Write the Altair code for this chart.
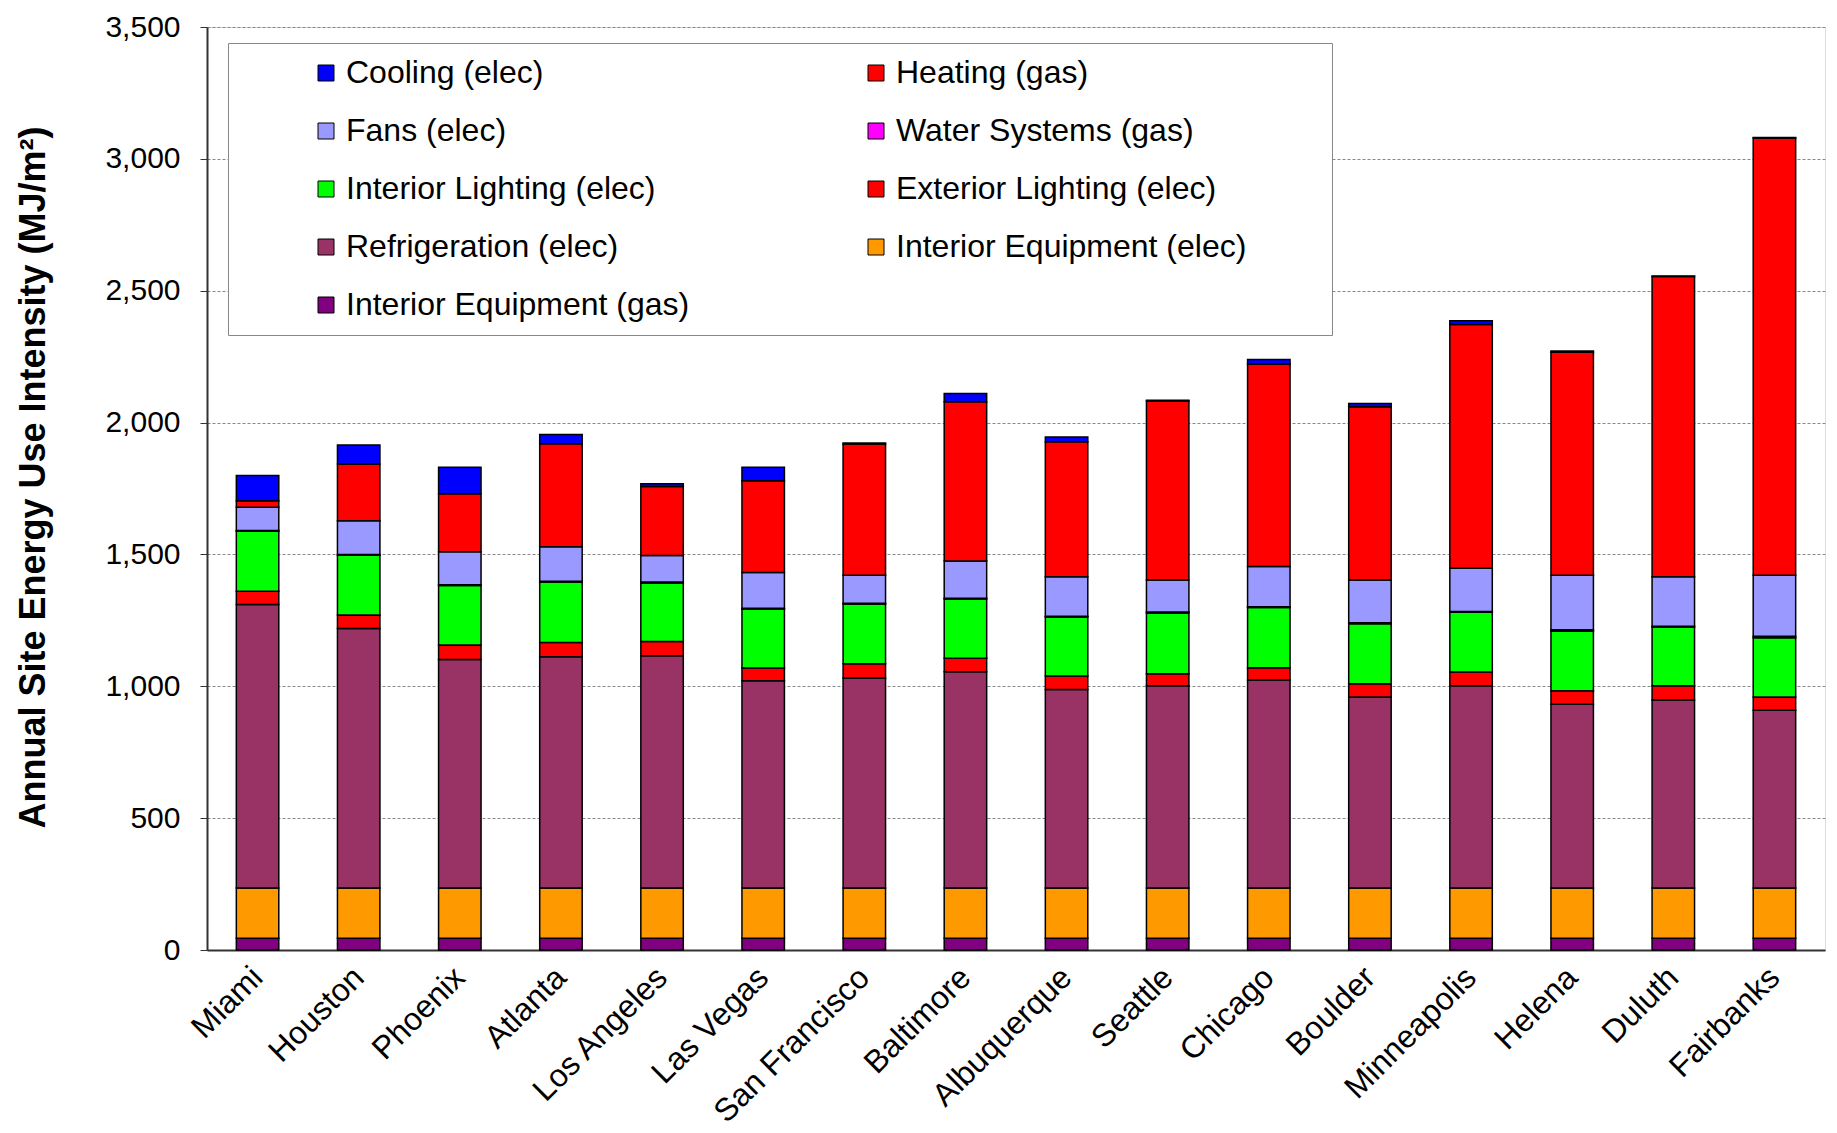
import altair as alt
import pandas as pd

cities = ["Miami", "Houston", "Phoenix", "Atlanta", "Los Angeles", "Las Vegas",
          "San Francisco", "Baltimore", "Albuquerque", "Seattle", "Chicago",
          "Boulder", "Minneapolis", "Helena", "Duluth", "Fairbanks"]

# Stack order from bottom to top
series = ["Interior Equipment (gas)", "Interior Equipment (elec)", "Refrigeration (elec)",
          "Exterior Lighting (elec)", "Interior Lighting (elec)", "Water Systems (gas)",
          "Fans (elec)", "Heating (gas)", "Cooling (elec)"]

int_equip_gas  = [45] * 16
int_equip_elec = [190] * 16
refrigeration  = [1075, 984, 867, 877, 881, 786, 796, 820, 753, 767, 789, 724, 767, 697, 713, 674]
ext_lighting   = [50, 51, 55, 54, 54, 48, 54, 51, 51, 46, 46, 51, 52, 51, 54, 50]
int_lighting   = [228, 227, 225, 229, 222, 224, 227, 225, 224, 230, 229, 227, 227, 226, 223, 225]
water_systems  = [3, 3, 3, 3, 3, 3, 3, 3, 3, 4, 3, 4, 3, 5, 3, 6]
fans           = [88, 128, 125, 131, 101, 135, 106, 141, 149, 121, 152, 162, 164, 207, 187, 231]
heating        = [25, 215, 220, 391, 262, 348, 498, 604, 512, 679, 768, 657, 924, 846, 1139, 1658]
cooling        = [95, 72, 101, 35, 10, 52, 4, 31, 18, 3, 17, 12, 14, 4, 2, 2]

colors = {
    "Cooling (elec)": "#0000FF",
    "Heating (gas)": "#FF0000",
    "Fans (elec)": "#9999FF",
    "Water Systems (gas)": "#FF00FF",
    "Interior Lighting (elec)": "#00FF00",
    "Exterior Lighting (elec)": "#FF0000",
    "Refrigeration (elec)": "#993366",
    "Interior Equipment (elec)": "#FF9900",
    "Interior Equipment (gas)": "#800080",
}
# legend fills column by column (5 rows)
legend_order = ["Cooling (elec)", "Fans (elec)", "Interior Lighting (elec)",
                "Refrigeration (elec)", "Interior Equipment (gas)",
                "Heating (gas)", "Water Systems (gas)", "Exterior Lighting (elec)",
                "Interior Equipment (elec)"]

values = [int_equip_gas, int_equip_elec, refrigeration, ext_lighting, int_lighting,
          water_systems, fans, heating, cooling]

rows = []
for k, (s, vals) in enumerate(zip(series, values)):
    for c, v in zip(cities, vals):
        rows.append({"City": c, "Series": s, "Value": v, "order": k})
df = pd.DataFrame(rows)

FONT = "Liberation Sans, Arial, sans-serif"
PAD = "\u00a0" * 8 + "\u200b"

chart = alt.Chart(df).mark_bar(stroke="black", strokeWidth=1.5).encode(
    x=alt.X("City:N", sort=cities,
            scale=alt.Scale(paddingInner=0.58, paddingOuter=0.29),
            axis=alt.Axis(title=None, labelAngle=315, labelAlign="right",
                          labelBaseline="middle", labelPadding=22, ticks=False,
                          labelLimit=0,
                          labelFontSize=32, labelFont=FONT, labelColor="black",
                          domainColor="#333", domainWidth=2)),
    y=alt.Y("Value:Q", stack="zero",
            scale=alt.Scale(domain=[0, 3500], nice=False),
            axis=alt.Axis(title="Annual Site Energy Use Intensity (MJ/m²)",
                          values=list(range(0, 3501, 500)), format=",.0f",
                          labelFontSize=30, labelFont=FONT, labelColor="black",
                          labelPadding=20, tickSize=7, tickColor="#333",
                          domainColor="#333", domainWidth=2,
                          titleFontSize=36, titleFont=FONT, titleFontWeight="bold",
                          titleColor="black", titlePadding=52, titleY=450,
                          grid=True, gridColor="#888", gridDash=[3, 2], gridWidth=1)),
    color=alt.Color("Series:N",
                    scale=alt.Scale(domain=legend_order,
                                    range=[colors[s] for s in legend_order]),
                    legend=alt.Legend(orient="none", legendX=21, legendY=16,
                                      columns=2, columnPadding=99, rowPadding=26,
                                      title="\u00a0", titleOrient="left", titleFontSize=1,
                                      titlePadding=68,
                                      symbolType="square", symbolSize=256,
                                      symbolStrokeColor="black", symbolStrokeWidth=1,
                                      labelFontSize=32, labelFont=FONT, labelColor="black",
                                      labelOffset=4, labelLimit=0,
                                      labelExpr="datum.label + '" + PAD + "'",
                                      padding=14, strokeColor="#888", fillColor="white")),
    order=alt.Order("order:Q", sort="ascending"),
).properties(
    width=1618, height=923,
    padding={"left": 199, "top": 19, "right": 4, "bottom": 183},
    autosize=alt.AutoSizeParams(type="none"),
).configure_view(stroke="#333", strokeWidth=2).configure(background="white")

chart.save("out.html", embed_options={"renderer": "svg", "actions": False})
